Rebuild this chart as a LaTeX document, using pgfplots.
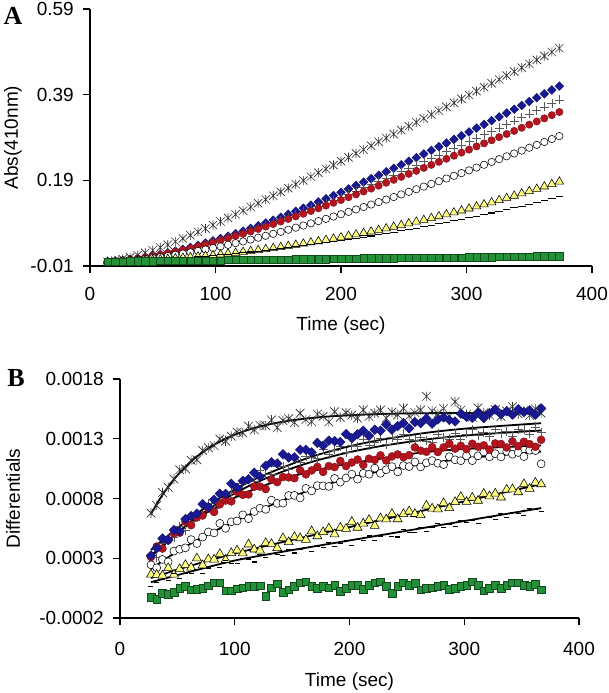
\documentclass[border=0pt]{standalone}
\usepackage{pgfplots}
\pgfplotsset{compat=1.18}
\usepackage{pgfplotstable}
\usepackage{fontspec}
\setmainfont{Liberation Sans}
\newfontfamily\serifb{Liberation Serif}
\definecolor{dblue}{RGB}{25,25,150}
\definecolor{dred}{RGB}{180,20,30}
\definecolor{ylw}{RGB}{255,255,130}
\definecolor{grn}{RGB}{35,145,55}

\pgfdeclareplotmark{xstar}{%
  \pgfpathmoveto{\pgfqpoint{-0.9\pgfplotmarksize}{-0.9\pgfplotmarksize}}%
  \pgfpathlineto{\pgfqpoint{0.9\pgfplotmarksize}{0.9\pgfplotmarksize}}%
  \pgfpathmoveto{\pgfqpoint{-0.9\pgfplotmarksize}{0.9\pgfplotmarksize}}%
  \pgfpathlineto{\pgfqpoint{0.9\pgfplotmarksize}{-0.9\pgfplotmarksize}}%
  \pgfpathmoveto{\pgfqpoint{0pt}{-\pgfplotmarksize}}%
  \pgfpathlineto{\pgfqpoint{0pt}{\pgfplotmarksize}}%
  \pgfusepathqstroke}

\pgfplotstableread{
t star dia plus red open tri dash sq
14 0 0 0 0 0 0 0 0
20 0.0026 0.0013 0.0012 0.0013 0.0008 0.0005 0.0006 0
26 0.0062 0.0031 0.0027 0.0030 0.0019 0.0011 0.0013 0
32 0.0104 0.0052 0.0046 0.0051 0.0033 0.0018 0.0020 0.001
38 0.0153 0.0076 0.0069 0.0074 0.0049 0.0026 0.0028 0.001
44 0.0208 0.0104 0.0095 0.0101 0.0067 0.0034 0.0037 0.001
50 0.0267 0.0136 0.0124 0.0130 0.0087 0.0044 0.0046 0.001
56 0.0331 0.0170 0.0156 0.0162 0.0109 0.0054 0.0056 0.002
62 0.0398 0.0207 0.0191 0.0197 0.0134 0.0066 0.0067 0.002
68 0.0469 0.0248 0.0229 0.0234 0.0160 0.0078 0.0078 0.002
74 0.0542 0.0290 0.0269 0.0273 0.0189 0.0091 0.0090 0.002
80 0.0618 0.0336 0.0312 0.0314 0.0219 0.0105 0.0103 0.002
86 0.0696 0.0383 0.0356 0.0358 0.0251 0.0120 0.0116 0.003
92 0.0775 0.0434 0.0403 0.0403 0.0284 0.0135 0.0130 0.003
98 0.0856 0.0486 0.0452 0.0450 0.0319 0.0152 0.0145 0.003
104 0.0939 0.0540 0.0503 0.0499 0.0356 0.0170 0.0160 0.003
110 0.1022 0.0596 0.0556 0.0549 0.0394 0.0188 0.0176 0.004
116 0.1107 0.0655 0.0610 0.0601 0.0434 0.0207 0.0192 0.004
122 0.1192 0.0714 0.0667 0.0654 0.0474 0.0227 0.0209 0.004
128 0.1279 0.0776 0.0724 0.0708 0.0517 0.0248 0.0227 0.004
134 0.1365 0.0839 0.0783 0.0764 0.0560 0.0270 0.0246 0.004
140 0.1453 0.0904 0.0844 0.0821 0.0605 0.0293 0.0265 0.005
146 0.1541 0.0970 0.0906 0.0879 0.0651 0.0317 0.0284 0.005
152 0.1629 0.1038 0.0969 0.0938 0.0698 0.0341 0.0305 0.005
158 0.1718 0.1107 0.1033 0.0998 0.0746 0.0367 0.0326 0.005
164 0.1807 0.1177 0.1098 0.1058 0.0795 0.0393 0.0347 0.006
170 0.1897 0.1249 0.1164 0.1120 0.0845 0.0420 0.0370 0.006
176 0.1986 0.1321 0.1232 0.1183 0.0896 0.0448 0.0393 0.006
182 0.2076 0.1395 0.1300 0.1246 0.0948 0.0477 0.0416 0.006
188 0.2166 0.1470 0.1369 0.1310 0.1001 0.0507 0.0441 0.006
194 0.2256 0.1545 0.1439 0.1375 0.1055 0.0538 0.0465 0.007
200 0.2347 0.1622 0.1510 0.1440 0.1109 0.0569 0.0491 0.007
206 0.2437 0.1700 0.1582 0.1506 0.1164 0.0602 0.0517 0.007
212 0.2528 0.1778 0.1654 0.1572 0.1220 0.0635 0.0544 0.007
218 0.2618 0.1857 0.1727 0.1639 0.1277 0.0669 0.0572 0.008
224 0.2709 0.1937 0.1801 0.1707 0.1335 0.0704 0.0600 0.008
230 0.2800 0.2018 0.1875 0.1775 0.1393 0.0740 0.0629 0.008
236 0.2890 0.2099 0.1950 0.1843 0.1451 0.0777 0.0658 0.008
242 0.2981 0.2181 0.2026 0.1912 0.1511 0.0815 0.0688 0.008
248 0.3072 0.2263 0.2102 0.1981 0.1571 0.0854 0.0719 0.009
254 0.3163 0.2347 0.2178 0.2051 0.1631 0.0893 0.0750 0.009
260 0.3254 0.2430 0.2255 0.2121 0.1692 0.0934 0.0782 0.009
266 0.3345 0.2515 0.2332 0.2191 0.1754 0.0975 0.0815 0.009
272 0.3436 0.2600 0.2410 0.2261 0.1816 0.1017 0.0848 0.010
278 0.3527 0.2685 0.2488 0.2332 0.1879 0.1060 0.0882 0.010
284 0.3618 0.2771 0.2567 0.2403 0.1942 0.1104 0.0917 0.010
290 0.3709 0.2857 0.2646 0.2475 0.2005 0.1149 0.0952 0.010
296 0.3801 0.2943 0.2725 0.2547 0.2069 0.1195 0.0988 0.010
302 0.3892 0.3030 0.2804 0.2618 0.2133 0.1241 0.1025 0.011
308 0.3983 0.3118 0.2884 0.2691 0.2198 0.1289 0.1062 0.011
314 0.4074 0.3206 0.2964 0.2763 0.2263 0.1337 0.1100 0.011
320 0.4165 0.3294 0.3045 0.2835 0.2329 0.1386 0.1138 0.011
326 0.4256 0.3382 0.3125 0.2908 0.2394 0.1436 0.1177 0.012
332 0.4347 0.3471 0.3206 0.2981 0.2461 0.1487 0.1217 0.012
338 0.4439 0.3560 0.3287 0.3054 0.2527 0.1539 0.1258 0.012
344 0.4530 0.3649 0.3369 0.3127 0.2594 0.1592 0.1299 0.012
350 0.4621 0.3739 0.3450 0.3200 0.2661 0.1646 0.1341 0.012
356 0.4712 0.3829 0.3532 0.3274 0.2728 0.1700 0.1383 0.013
362 0.4803 0.3919 0.3614 0.3347 0.2796 0.1755 0.1426 0.013
368 0.4894 0.4009 0.3696 0.3421 0.2864 0.1812 0.1470 0.013
374 0.4986 0.4100 0.3778 0.3495 0.2932 0.1869 0.1514 0.013
}\tableA

\pgfplotstableread{
t star dia plus red open tri dash sq
27 6.78e-4 3.23e-4 3.16e-4 3.10e-4 2.45e-4 1.64e-4 0.61e-4 -0.25e-4
32 7.42e-4 3.85e-4 3.06e-4 3.98e-4 2.20e-4 1.62e-4 0.98e-4 -0.42e-4
37 8.50e-4 4.65e-4 4.21e-4 3.81e-4 2.90e-4 1.56e-4 1.25e-4 0.08e-4
42 8.93e-4 4.53e-4 4.51e-4 4.51e-4 2.70e-4 2.18e-4 1.11e-4 0
47 9.63e-4 5.36e-4 4.74e-4 5.08e-4 3.60e-4 1.64e-4 1.72e-4 0.14e-4
52 10.40e-4 5.27e-4 5.64e-4 5.14e-4 3.75e-4 2.10e-4 1.31e-4 0.50e-4
57 10.48e-4 6.28e-4 5.35e-4 6.06e-4 3.87e-4 2.44e-4 1.70e-4 0.64e-4
62 11.20e-4 6.53e-4 6.05e-4 5.77e-4 4.56e-4 2.22e-4 1.71e-4 0.36e-4
67 11.24e-4 6.74e-4 6.61e-4 6.41e-4 4.23e-4 3.00e-4 2.08e-4 0.42e-4
72 12.02e-4 7.53e-4 6.60e-4 6.58e-4 4.77e-4 2.42e-4 1.72e-4 0.50e-4
77 12.25e-4 7.28e-4 7.57e-4 7.15e-4 5.20e-4 2.92e-4 2.18e-4 0.69e-4
82 12.43e-4 7.90e-4 7.17e-4 6.87e-4 5.12e-4 2.90e-4 2.37e-4 0.97e-4
87 12.98e-4 8.40e-4 7.83e-4 7.51e-4 5.92e-4 3.36e-4 2.22e-4 0.97e-4
92 12.81e-4 8.39e-4 7.96e-4 7.83e-4 5.51e-4 2.86e-4 2.83e-4 0.28e-4
97 13.22e-4 9.24e-4 8.55e-4 7.76e-4 6.05e-4 3.44e-4 2.57e-4 0.28e-4
102 13.55e-4 8.90e-4 8.58e-4 8.55e-4 6.12e-4 3.66e-4 2.54e-4 0.44e-4
107 13.49e-4 9.48e-4 9.27e-4 8.31e-4 6.63e-4 3.41e-4 3.01e-4 0.55e-4
112 14.05e-4 9.61e-4 9.59e-4 8.34e-4 6.31e-4 4.16e-4 2.94e-4 0.64e-4
117 13.75e-4 10.15e-4 9.46e-4 8.99e-4 6.91e-4 3.74e-4 2.69e-4 0.64e-4
122 14.11e-4 9.83e-4 10.32e-4 9.00e-4 7.19e-4 3.65e-4 3.31e-4 0.69e-4
127 14.10e-4 10.74e-4 10.01e-4 8.79e-4 7.09e-4 4.28e-4 3.07e-4 -0.20e-4
132 14.57e-4 11.03e-4 10.01e-4 9.59e-4 7.86e-4 4.19e-4 3.39e-4 0.55e-4
137 13.94e-4 10.93e-4 10.72e-4 9.37e-4 7.59e-4 3.85e-4 3.32e-4 0.86e-4
142 14.52e-4 11.70e-4 10.70e-4 9.80e-4 7.61e-4 4.68e-4 3.22e-4 0.14e-4
147 14.68e-4 11.43e-4 10.44e-4 9.77e-4 8.25e-4 4.35e-4 3.75e-4 0.36e-4
152 14.35e-4 11.45e-4 11.32e-4 9.70e-4 8.26e-4 4.78e-4 3.44e-4 0.64e-4
157 15.13e-4 12.08e-4 11.04e-4 10.36e-4 8.05e-4 4.68e-4 3.70e-4 0.97e-4
162 14.60e-4 12.08e-4 11.52e-4 10.02e-4 8.85e-4 4.55e-4 3.93e-4 1.05e-4
167 14.43e-4 11.86e-4 11.46e-4 10.35e-4 8.64e-4 5.26e-4 3.56e-4 0.64e-4
172 15.06e-4 12.65e-4 11.36e-4 10.65e-4 9.08e-4 4.85e-4 3.98e-4 0.47e-4
177 14.88e-4 12.42e-4 12.10e-4 10.22e-4 9.06e-4 5.19e-4 3.91e-4 0.64e-4
182 14.41e-4 12.84e-4 11.70e-4 10.71e-4 9.01e-4 5.50e-4 4.35e-4 0.55e-4
187 15.26e-4 12.80e-4 12.06e-4 10.63e-4 9.68e-4 5.01e-4 3.98e-4 0.75e-4
192 14.80e-4 12.73e-4 12.38e-4 11.14e-4 9.37e-4 5.56e-4 4.24e-4 0.22e-4
197 15.18e-4 13.39e-4 11.89e-4 10.71e-4 9.72e-4 5.46e-4 4.47e-4 0.47e-4
202 14.98e-4 13.05e-4 12.44e-4 11.01e-4 10.04e-4 6.05e-4 4.10e-4 0.75e-4
207 14.73e-4 13.38e-4 12.34e-4 11.26e-4 9.62e-4 5.56e-4 4.57e-4 0.75e-4
212 15.42e-4 13.67e-4 12.92e-4 10.81e-4 10.11e-4 5.91e-4 4.50e-4 0.41e-4
217 14.86e-4 13.25e-4 12.41e-4 11.33e-4 10.03e-4 6.21e-4 4.86e-4 0.75e-4
222 15.14e-4 13.75e-4 12.74e-4 11.23e-4 10.54e-4 5.72e-4 4.52e-4 0.97e-4
227 15.39e-4 13.67e-4 13.02e-4 11.61e-4 10.11e-4 6.35e-4 4.84e-4 1.05e-4
232 14.72e-4 14.19e-4 12.50e-4 11.18e-4 10.41e-4 6.26e-4 5.01e-4 0.64e-4
237 15.23e-4 13.76e-4 13.10e-4 11.52e-4 10.67e-4 6.72e-4 4.85e-4 0.08e-4
242 15.01e-4 14.06e-4 12.97e-4 11.69e-4 10.23e-4 6.27e-4 4.78e-4 0.64e-4
247 15.56e-4 14.31e-4 13.40e-4 11.46e-4 10.76e-4 6.70e-4 5.37e-4 0.97e-4
252 14.90e-4 13.87e-4 12.91e-4 11.63e-4 10.67e-4 6.93e-4 5.18e-4 0.75e-4
257 15.18e-4 14.40e-4 12.90e-4 12.28e-4 11.06e-4 6.71e-4 5.14e-4 0.91e-4
262 15.41e-4 14.31e-4 13.08e-4 12.00e-4 10.64e-4 6.62e-4 5.53e-4 0.36e-4
267 16.55e-4 14.69e-4 12.82e-4 11.91e-4 10.99e-4 7.41e-4 5.22e-4 0.47e-4
272 15.33e-4 14.27e-4 12.67e-4 12.30e-4 11.17e-4 7.16e-4 5.60e-4 0.55e-4
277 15.11e-4 14.61e-4 13.41e-4 11.89e-4 10.95e-4 7.10e-4 5.92e-4 0.64e-4
282 15.52e-4 14.79e-4 13.10e-4 12.28e-4 10.84e-4 7.61e-4 5.61e-4 0.75e-4
287 14.89e-4 14.57e-4 12.99e-4 12.59e-4 11.50e-4 7.20e-4 5.87e-4 0.41e-4
292 16.10e-4 14.45e-4 13.43e-4 12.17e-4 11.24e-4 7.71e-4 5.68e-4 0.47e-4
297 15.39e-4 15.10e-4 12.96e-4 12.41e-4 11.16e-4 8.13e-4 6.12e-4 0.64e-4
302 15.03e-4 14.84e-4 13.40e-4 12.13e-4 11.56e-4 7.72e-4 5.96e-4 0.75e-4
307 14.81e-4 14.75e-4 13.76e-4 12.58e-4 11.17e-4 8.07e-4 6.14e-4 1.05e-4
312 15.58e-4 15.15e-4 13.28e-4 12.33e-4 11.57e-4 7.82e-4 5.89e-4 0.75e-4
317 15.17e-4 14.74e-4 13.56e-4 12.45e-4 11.90e-4 8.40e-4 6.39e-4 0.27e-4
322 14.99e-4 15.14e-4 13.23e-4 12.10e-4 11.49e-4 8.19e-4 6.41e-4 0.47e-4
327 15.44e-4 15.46e-4 13.75e-4 12.61e-4 11.75e-4 8.42e-4 6.22e-4 0.75e-4
332 14.87e-4 15.05e-4 13.46e-4 12.56e-4 11.48e-4 8.09e-4 6.72e-4 0.47e-4
337 15.32e-4 15.30e-4 13.61e-4 12.27e-4 11.95e-4 8.75e-4 6.44e-4 0.75e-4
342 15.68e-4 15.02e-4 13.20e-4 12.78e-4 11.71e-4 8.78e-4 6.82e-4 0.97e-4
347 15.09e-4 15.47e-4 13.79e-4 12.38e-4 11.85e-4 8.53e-4 6.72e-4 0.97e-4
352 15.36e-4 15.23e-4 13.74e-4 12.75e-4 11.51e-4 9.20e-4 6.60e-4 0.75e-4
357 14.96e-4 15.37e-4 13.40e-4 12.55e-4 12.04e-4 8.82e-4 7.16e-4 0.64e-4
362 15.50e-4 15.02e-4 13.99e-4 12.33e-4 12.01e-4 9.33e-4 7.06e-4 0.83e-4
367 15.14e-4 15.54e-4 13.53e-4 12.91e-4 10.90e-4 9.20e-4 6.90e-4 0.36e-4
}\tableB

\pgfplotsset{
  myaxis/.style={
    scale only axis,
    xmin=0, xmax=400,
    axis lines=left,
    axis line style={-, line width=1.7pt},
    tick align=outside, major tick length=7pt,
    tick style={line width=1.4pt, black},
    xtick={0,100,200,300,400}, xticklabels={0,100,200,300,400},
    tick label style={font=\fontsize{19}{22}\selectfont},
    label style={font=\fontsize{19}{22}\selectfont},
    xticklabel style={anchor=north, inner sep=0pt, yshift=-14pt},
    yticklabel style={anchor=east, inner sep=0pt, xshift=-9pt},
    scaled y ticks=false,
    clip=false,
  },
  sstar/.style={only marks, mark=xstar, mark size=4.6pt, black!80, mark options={line width=0.65pt}},
  sdia/.style={only marks, mark=square*, mark size=3.1pt, mark options={rotate=45, fill=dblue, draw=dblue!70!black, line width=0.4pt}},
  splus/.style={only marks, mark=+, mark size=4.5pt, black!65, mark options={line width=0.65pt}},
  sred/.style={only marks, mark=*, mark size=3.7pt, mark options={fill=dred, draw=dred!70!black, line width=0.4pt}},
  sopen/.style={only marks, mark=*, mark size=3.7pt, mark options={fill=white, draw=black, line width=0.55pt}},
  stri/.style={only marks, mark=triangle*, mark size=4.9pt, mark options={fill=ylw, draw=black, line width=0.55pt}},
  sdash/.style={only marks, mark=-, mark size=3.8pt, black, mark options={line width=1.1pt}},
  ssq/.style={only marks, mark=square*, mark size=3.7pt, mark options={fill=grn, draw=grn!50!black, line width=0.4pt}},
  sfit/.style={no marks, smooth, black, line width=1.8pt},
}

\begin{document}
\begin{tikzpicture}
\useasboundingbox (0pt,0pt) rectangle (608pt,693pt);

\node[font=\serifb\bfseries\fontsize{26}{26}\selectfont] at (13pt,677pt) {A};
\node[font=\serifb\bfseries\fontsize{26}{26}\selectfont] at (16pt,315pt) {B};

\begin{axis}[myaxis,
  at={(90pt,427pt)}, anchor=south west,
  width=502pt, height=257pt,
  ymin=-0.01, ymax=0.59,
  ytick={-0.01,0.19,0.39,0.59}, yticklabels={-0.01,0.19,0.39,0.59},
  xlabel={Time (sec)}, ylabel={Abs(410nm)},
  x label style={at={(axis description cs:0.5,-0.2335)}, anchor=center},
  y label style={at={(axis description cs:-0.1534,0.5)}, anchor=center},
]
\addplot[sstar] table[x=t, y=star] {\tableA};
\addplot[sdia] table[x=t, y=dia] {\tableA};
\addplot[splus] table[x=t, y=plus] {\tableA};
\addplot[sred] table[x=t, y=red] {\tableA};
\addplot[sopen] table[x=t, y=open] {\tableA};
\addplot[stri] table[x=t, y=tri] {\tableA};
\addplot[sdash] table[x=t, y=dash] {\tableA};
\addplot[ssq] table[x=t, y=sq] {\tableA};
\end{axis}

\begin{axis}[myaxis,
  at={(120pt,75pt)}, anchor=south west,
  width=459pt, height=239pt,
  ymin=-0.0002, ymax=0.0018,
  ytick={-0.0002,0.0003,0.0008,0.0013,0.0018},
  yticklabels={-0.0002,0.0003,0.0008,0.0013,0.0018},
  xticklabel style={yshift=-3pt},
  xlabel={Time (sec)}, ylabel={Differentials},
  x label style={at={(axis description cs:0.5,-0.2678)}, anchor=center},
  y label style={at={(axis description cs:-0.2331,0.5)}, anchor=center},
]
\addplot[sstar, mark size=4.8pt] table[x=t, y=star] {\tableB};
\addplot[splus] table[x=t, y=plus] {\tableB};
\addplot[sopen, mark size=4.0pt] table[x=t, y=open] {\tableB};
\addplot[sred, mark size=4.0pt] table[x=t, y=red] {\tableB};
\addplot[sdia, mark size=3.4pt] table[x=t, y=dia] {\tableB};
\addplot[stri, mark size=5.2pt] table[x=t, y=tri] {\tableB};
\addplot[sdash, mark size=2.5pt] table[x=t, y=dash] {\tableB};
\addplot[ssq, mark size=3.8pt] table[x=t, y=sq] {\tableB};
% fitted curves
\addplot[sfit] coordinates {(27,6.70e-4) (32,7.54e-4) (37,8.30e-4) (42,8.98e-4) (47,9.60e-4) (52,10.15e-4) (57,10.65e-4) (62,11.10e-4) (67,11.51e-4) (77,12.20e-4) (87,12.76e-4) (97,13.22e-4) (107,13.59e-4) (117,13.90e-4) (127,14.14e-4) (142,14.43e-4) (157,14.63e-4) (177,14.83e-4) (197,14.95e-4) (227,15.07e-4) (267,15.14e-4) (307,15.16e-4) (367,15.18e-4)};
\addplot[sfit] coordinates {(27,3.7e-4) (37,4.5e-4) (47,5.3e-4) (62,6.4e-4) (77,7.4e-4) (97,8.6e-4) (117,9.6e-4) (142,10.6e-4) (167,11.5e-4) (197,12.3e-4) (227,12.9e-4) (267,13.5e-4) (307,13.9e-4) (367,14.3e-4)};
\addplot[sfit] coordinates {(27,3.2e-4) (37,3.97e-4) (47,4.86e-4) (62,6.05e-4) (77,7.09e-4) (97,8.27e-4) (117,9.26e-4) (142,10.26e-4) (167,11.06e-4) (197,11.81e-4) (227,12.38e-4) (267,12.94e-4) (307,13.32e-4) (367,13.69e-4)};
\addplot[sfit] coordinates {(27,3.20e-4) (37,4.09e-4) (47,4.90e-4) (62,5.98e-4) (77,6.90e-4) (97,7.93e-4) (117,8.78e-4) (142,9.62e-4) (167,10.28e-4) (197,10.88e-4) (227,11.33e-4) (267,11.90e-4) (307,12.18e-4) (367,12.44e-4)};
\addplot[sfit] coordinates {(27,2.10e-4) (37,2.76e-4) (47,3.39e-4) (62,4.24e-4) (77,5.02e-4) (97,5.94e-4) (117,6.84e-4) (142,7.85e-4) (167,8.74e-4) (197,9.65e-4) (227,10.28e-4) (267,10.92e-4) (307,11.41e-4) (367,11.93e-4)};
\addplot[sfit] coordinates {(27,1.35e-4) (52,2.1e-4) (77,2.8e-4) (102,3.45e-4) (142,4.36e-4) (197,5.54e-4) (267,7.05e-4) (367,9.2e-4)};
\addplot[sfit] coordinates {(27,1.00e-4) (52,1.64e-4) (77,2.27e-4) (102,2.85e-4) (142,3.55e-4) (197,4.44e-4) (267,5.58e-4) (367,7.20e-4)};
\end{axis}
\end{tikzpicture}
\end{document}
